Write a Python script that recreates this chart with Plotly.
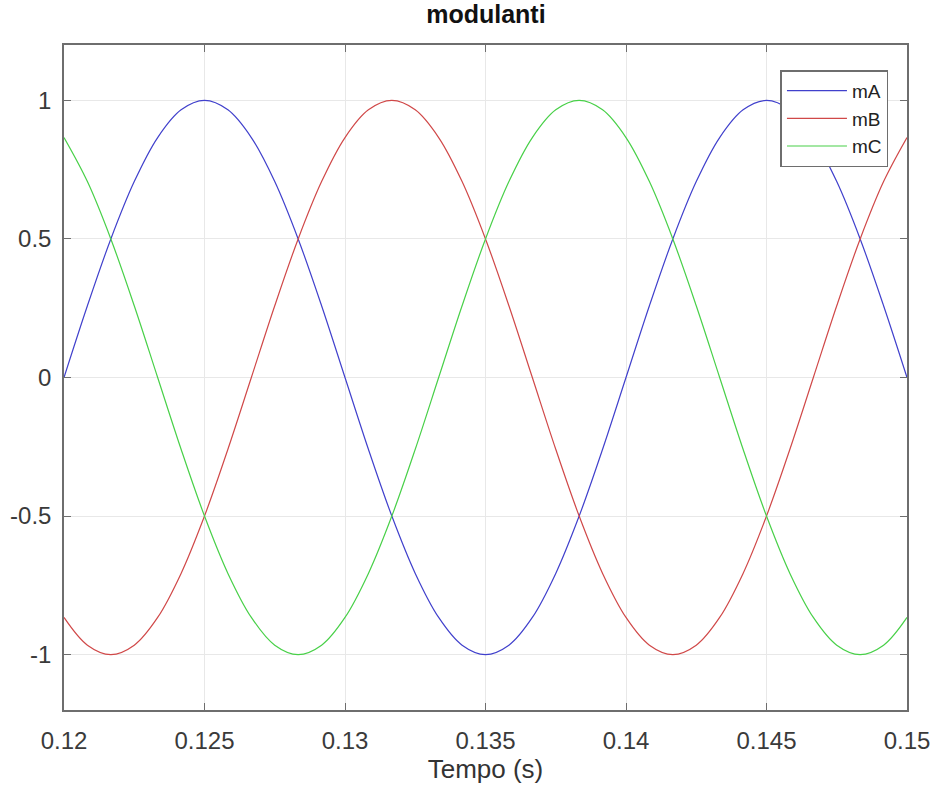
import plotly.graph_objects as go

# time samples (s), every 15 degrees of a 50 Hz period
t = [0.12, 0.120833, 0.121667, 0.1225, 0.123333, 0.124167, 0.125, 0.125833, 0.126667,
     0.1275, 0.128333, 0.129167, 0.13, 0.130833, 0.131667, 0.1325, 0.133333, 0.134167,
     0.135, 0.135833, 0.136667, 0.1375, 0.138333, 0.139167, 0.14, 0.140833, 0.141667,
     0.1425, 0.143333, 0.144167, 0.145, 0.145833, 0.146667, 0.1475, 0.148333, 0.149167, 0.15]

mA = [0, 0.259, 0.5, 0.707, 0.866, 0.966, 1, 0.966, 0.866, 0.707, 0.5, 0.259,
      0, -0.259, -0.5, -0.707, -0.866, -0.966, -1, -0.966, -0.866, -0.707, -0.5, -0.259,
      0, 0.259, 0.5, 0.707, 0.866, 0.966, 1, 0.966, 0.866, 0.707, 0.5, 0.259, 0]
mB = [-0.866, -0.966, -1, -0.966, -0.866, -0.707, -0.5, -0.259, 0, 0.259, 0.5, 0.707,
      0.866, 0.966, 1, 0.966, 0.866, 0.707, 0.5, 0.259, 0, -0.259, -0.5, -0.707,
      -0.866, -0.966, -1, -0.966, -0.866, -0.707, -0.5, -0.259, 0, 0.259, 0.5, 0.707, 0.866]
mC = [0.866, 0.707, 0.5, 0.259, 0, -0.259, -0.5, -0.707, -0.866, -0.966, -1, -0.966,
      -0.866, -0.707, -0.5, -0.259, 0, 0.259, 0.5, 0.707, 0.866, 0.966, 1, 0.966,
      0.866, 0.707, 0.5, 0.259, 0, -0.259, -0.5, -0.707, -0.866, -0.966, -1, -0.966, -0.866]

xticks = [0.12, 0.125, 0.13, 0.135, 0.14, 0.145, 0.15]
xticklabels = ["0.12", "0.125", "0.13", "0.135", "0.14", "0.145", "0.15"]
yticks = [-1, -0.5, 0, 0.5, 1]
yticklabels = ["-1", "-0.5", "0", "0.5", "1"]

series = [("mA", mA, "#4040cc"), ("mB", mB, "#d04848"), ("mC", mC, "#48d048")]

fig = go.Figure()
for name, y, col in series:
    fig.add_trace(go.Scatter(x=t, y=y, name=name, mode="lines",
                             line=dict(color=col, width=1.2, shape="spline", smoothing=1.0)))

font = "Liberation Sans, Arial, Helvetica, sans-serif"
axis_common = dict(showline=True, linecolor="#6e6e6e", linewidth=1.5, mirror="ticks",
                   ticks="inside", ticklen=7, tickcolor="#6e6e6e", automargin=False,
                   showgrid=True, gridcolor="#e8e8e8", gridwidth=1, zeroline=False,
                   tickfont=dict(family=font, size=24, color="#3a3a3a"))

fig.update_layout(
    width=938, height=794,
    paper_bgcolor="white", plot_bgcolor="white",
    margin=dict(l=64, r=31, t=45, b=84),
    title=dict(text="<b>modulanti</b>", x=0.518, xanchor="center", y=0.982, yanchor="middle",
               font=dict(family=font, size=25, color="#111111")),
    xaxis=dict(range=[0.12, 0.15], tickvals=xticks, ticktext=xticklabels,
               ticklabelstandoff=8,
               title=dict(text="Tempo (s)", font=dict(family=font, size=26, color="#333333"), standoff=6),
               **axis_common),
    yaxis=dict(range=[-1.2, 1.2], tickvals=yticks, ticktext=yticklabels,
               ticklabelstandoff=6, **axis_common),
    legend=dict(x=0.978, y=0.962, xanchor="right", yanchor="top",
                bgcolor="white", bordercolor="#6e6e6e", borderwidth=1.5,
                font=dict(family=font, size=19, color="#222222"),
                tracegroupgap=0, itemwidth=60),
    showlegend=True,
)

fig.write_html("out.html")
